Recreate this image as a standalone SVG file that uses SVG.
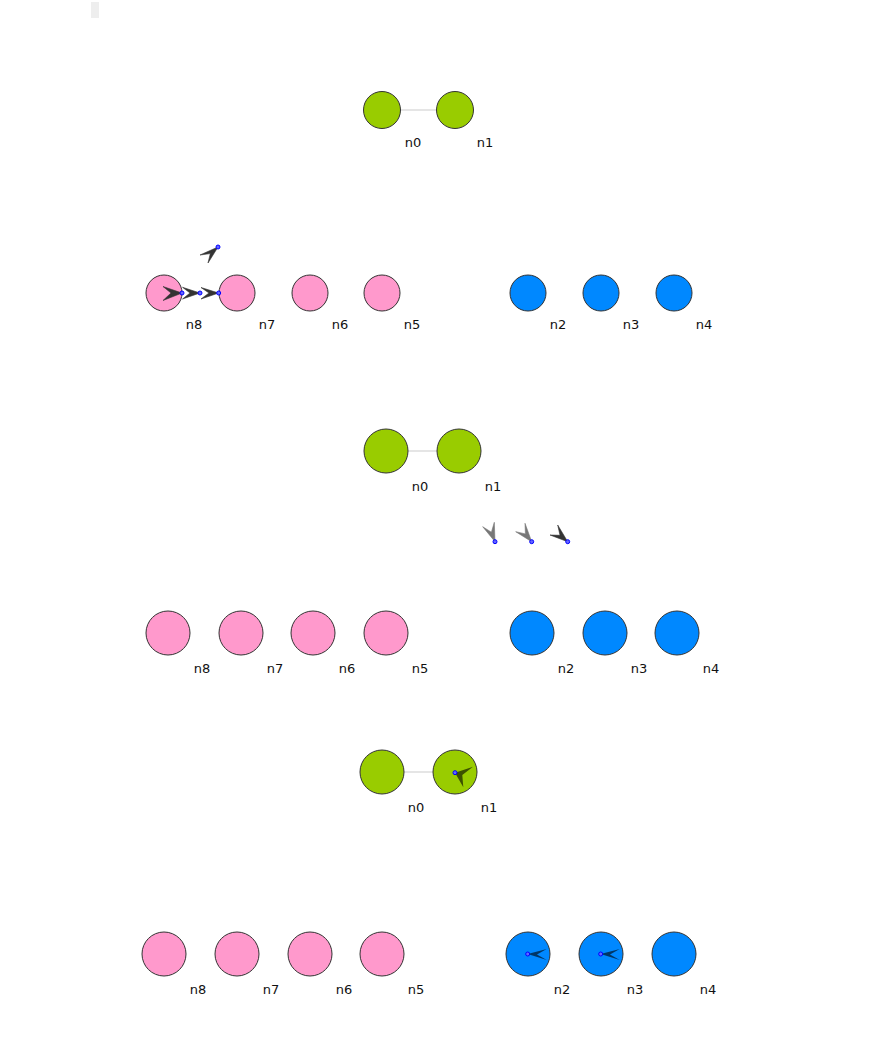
<svg xmlns="http://www.w3.org/2000/svg" width="883" height="1051" viewBox="0 0 883 1051">
<style>
.g{fill:#99cc00;stroke:#333;stroke-width:1}
.p{fill:#ff99cc;stroke:#333;stroke-width:1}
.b{fill:#0088ff;stroke:#333;stroke-width:1}
.e{stroke:#dddddd;stroke-width:1.5;fill:none}
.l{font-family:"DejaVu Sans",sans-serif;font-size:13px;fill:#111;text-anchor:middle}
.d{fill:#6666ff;stroke:#0000ff;stroke-width:1}
.a1{fill:#333;stroke:#333;stroke-width:0.6;stroke-linejoin:round}
.a2{fill:#777;stroke:#777;stroke-width:0.6;stroke-linejoin:round}
.a3{fill:#000;fill-opacity:0.6}
</style>
<rect x="91" y="2" width="8" height="16" fill="#eeeeee"/>
<g id="connectors">
<line class="e" x1="382" y1="110" x2="455" y2="110"/>
<line class="e" x1="386" y1="451" x2="459" y2="451"/>
<line class="e" x1="382" y1="772" x2="455" y2="772"/>
</g>
<g id="row1">
<g id="r1-n0"><circle class="g" cx="382" cy="110" r="18.5"/><text class="l" x="413" y="147">n0</text></g>
<g id="r1-n1"><circle class="g" cx="455" cy="110" r="18.5"/><text class="l" x="485" y="147">n1</text></g>
</g>
<g id="row2">
<g id="r2-n8"><circle class="p" cx="164" cy="293" r="18"/><text class="l" x="194" y="329">n8</text></g>
<g id="r2-n7"><circle class="p" cx="237" cy="293" r="18"/><text class="l" x="267" y="329">n7</text></g>
<g id="r2-n6"><circle class="p" cx="310" cy="293" r="18"/><text class="l" x="340" y="329">n6</text></g>
<g id="r2-n5"><circle class="p" cx="382" cy="293" r="18"/><text class="l" x="412" y="329">n5</text></g>
<g id="r2-n2"><circle class="b" cx="528" cy="293" r="18"/><text class="l" x="558" y="329">n2</text></g>
<g id="r2-n3"><circle class="b" cx="601" cy="293" r="18"/><text class="l" x="631" y="329">n3</text></g>
<g id="r2-n4"><circle class="b" cx="674" cy="293" r="18"/><text class="l" x="704" y="329">n4</text></g>
</g>
<g id="row3">
<g id="r3-n0"><circle class="g" cx="386" cy="451" r="22"/><text class="l" x="420" y="491">n0</text></g>
<g id="r3-n1"><circle class="g" cx="459" cy="451" r="22"/><text class="l" x="493" y="491">n1</text></g>
</g>
<g id="row4">
<g id="r4-n8"><circle class="p" cx="168" cy="633" r="22"/><text class="l" x="202" y="673">n8</text></g>
<g id="r4-n7"><circle class="p" cx="241" cy="633" r="22"/><text class="l" x="275" y="673">n7</text></g>
<g id="r4-n6"><circle class="p" cx="313" cy="633" r="22"/><text class="l" x="347" y="673">n6</text></g>
<g id="r4-n5"><circle class="p" cx="386" cy="633" r="22"/><text class="l" x="420" y="673">n5</text></g>
<g id="r4-n2"><circle class="b" cx="532" cy="633" r="22"/><text class="l" x="566" y="673">n2</text></g>
<g id="r4-n3"><circle class="b" cx="605" cy="633" r="22"/><text class="l" x="639" y="673">n3</text></g>
<g id="r4-n4"><circle class="b" cx="677" cy="633" r="22"/><text class="l" x="711" y="673">n4</text></g>
</g>
<g id="row5">
<g id="r5-n0"><circle class="g" cx="382" cy="772" r="22"/><text class="l" x="416" y="812">n0</text></g>
<g id="r5-n1"><circle class="g" cx="455" cy="772" r="22"/><text class="l" x="489" y="812">n1</text></g>
</g>
<g id="row6">
<g id="r6-n8"><circle class="p" cx="164" cy="954" r="22"/><text class="l" x="198" y="994">n8</text></g>
<g id="r6-n7"><circle class="p" cx="237" cy="954" r="22"/><text class="l" x="271" y="994">n7</text></g>
<g id="r6-n6"><circle class="p" cx="310" cy="954" r="22"/><text class="l" x="344" y="994">n6</text></g>
<g id="r6-n5"><circle class="p" cx="382" cy="954" r="22"/><text class="l" x="416" y="994">n5</text></g>
<g id="r6-n2"><circle class="b" cx="528" cy="954" r="22"/><text class="l" x="562" y="994">n2</text></g>
<g id="r6-n3"><circle class="b" cx="601" cy="954" r="22"/><text class="l" x="635" y="994">n3</text></g>
<g id="r6-n4"><circle class="b" cx="674" cy="954" r="22"/><text class="l" x="708" y="994">n4</text></g>
</g>
<g id="arrowheads">
<path class="a1" d="M182,293 L163,286.5 L171,293 L163,300.5 Z"/>
<path class="a1" d="M200,293 L182.5,287.3 L190,293 L182.5,299 Z"/>
<path class="a1" d="M218.7,293 L201,287.5 L209,293 L201,299 Z"/>
<path class="a1" d="M218,247 L200,255 L210.3,253.6 L208,263 Z"/>
<circle class="d" cx="182" cy="293" r="2"/>
<circle class="d" cx="200" cy="293" r="2"/>
<circle class="d" cx="218.7" cy="293" r="2"/>
<circle class="d" cx="218" cy="247" r="2"/>
<path class="a2" d="M495,541.7 L482.7,526.7 L491.4,532.2 L494.3,522.3 Z"/>
<path class="a2" d="M531.7,541.7 L515.7,531.7 L525.4,533.9 L525,523.3 Z"/>
<path class="a1" d="M567.7,541.7 L550,535 L560,535.3 L557.7,525 Z"/>
<circle class="d" cx="495" cy="541.7" r="2"/>
<circle class="d" cx="531.7" cy="541.7" r="2"/>
<circle class="d" cx="567.7" cy="541.7" r="2"/>
<path class="a3" d="M455,772.7 L473,766.7 L462.3,775.1 L463.3,787.3 Z"/>
<circle class="d" cx="455" cy="772.7" r="2"/>
<path class="a3" d="M527.7,954 L546.7,949 L537,954.5 L546.7,960 Z"/>
<path class="a3" d="M600.7,954 L619.7,949 L610,954.5 L619.7,960 Z"/>
<circle class="d" cx="527.7" cy="954" r="2"/>
<circle class="d" cx="600.7" cy="954" r="2"/>
</g>
</svg>
